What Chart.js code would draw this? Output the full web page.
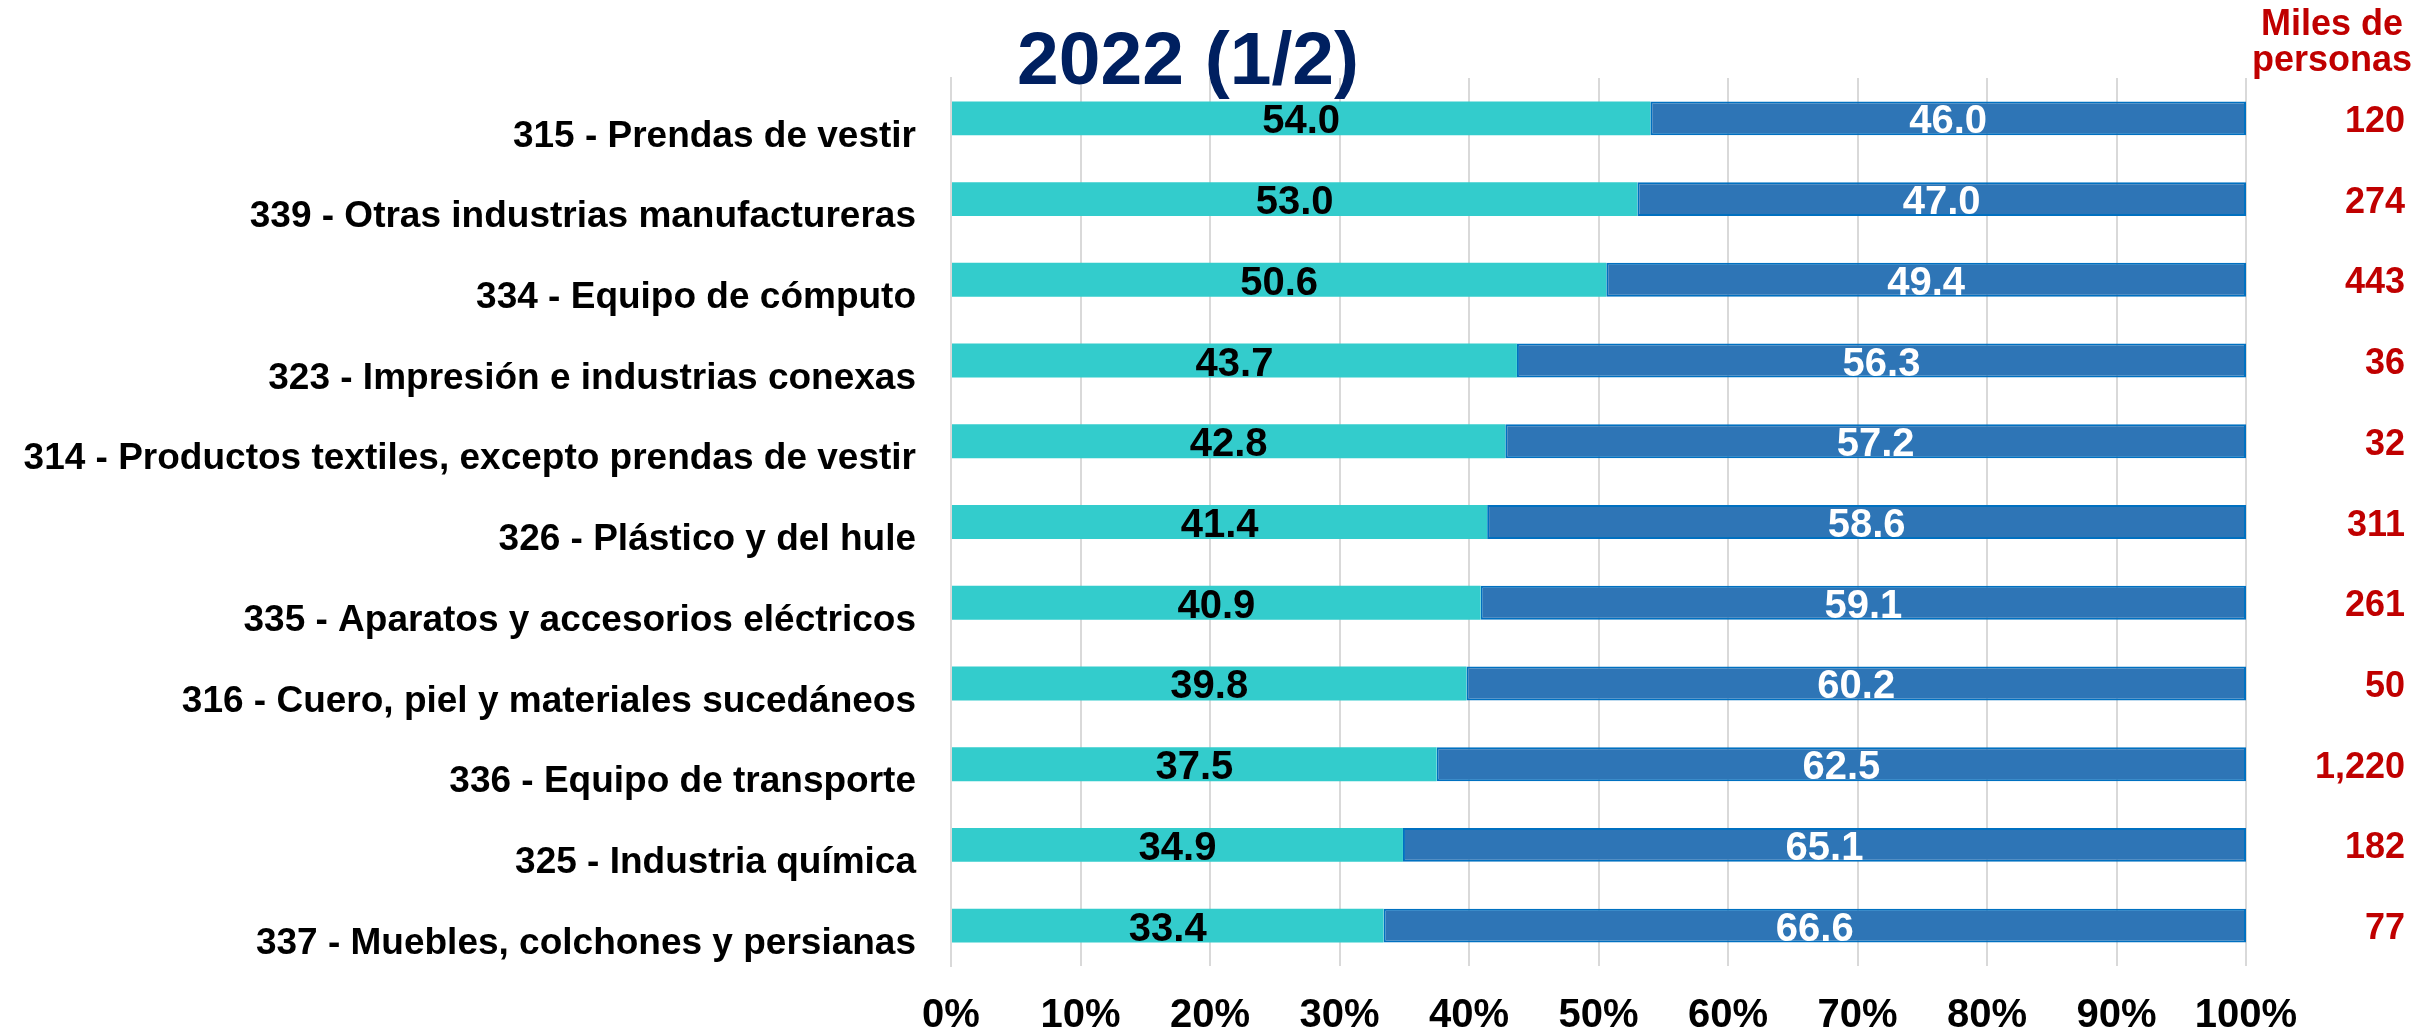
<!DOCTYPE html>
<html>
<head>
<meta charset="utf-8">
<script src="https://cdn.jsdelivr.net/npm/chart.js@4/dist/chart.umd.min.js"></script>
<style>
html,body{margin:0;padding:0;background:#fff;}
canvas{display:block;}
</style>
</head>
<body>
<canvas id="c" width="2425" height="1035" style="width:2425px;height:1035px"></canvas>
<script>
const categories = [
  "315 - Prendas de vestir",
  "339 - Otras industrias manufactureras",
  "334 - Equipo de cómputo",
  "323 - Impresión e industrias conexas",
  "314 - Productos textiles, excepto prendas de vestir",
  "326 - Plástico y del hule",
  "335 - Aparatos y accesorios eléctricos",
  "316 - Cuero, piel y materiales sucedáneos",
  "336 - Equipo de transporte",
  "325 - Industria química",
  "337 - Muebles, colchones y persianas"
];
const mujeres = [54.0, 53.0, 50.6, 43.7, 42.8, 41.4, 40.9, 39.8, 37.5, 34.9, 33.4];
const hombres = [46.0, 47.0, 49.4, 56.3, 57.2, 58.6, 59.1, 60.2, 62.5, 65.1, 66.6];
const totales = [120, 274, 443, 36, 32, 311, 261, 50, 1220, 182, 77];
const xTicks = [0, 10, 20, 30, 40, 50, 60, 70, 80, 90, 100];
const titleText = "2022 (1/2)";
const unitLines = ["Miles de", "personas"];

const FONT = "'Liberation Sans', Arial, Helvetica, sans-serif";

const overlayPlugin = {
  id: 'overlay',
  afterDatasetsDraw(chart) {
    const ctx = chart.ctx;
    // data labels
    chart.data.datasets.forEach((ds, di) => {
      const meta = chart.getDatasetMeta(di);
      meta.data.forEach((el, i) => {
        const cx = (el.x + el.base) / 2;
        ctx.save();
        ctx.font = "bold 40px " + FONT;
        ctx.fillStyle = di === 0 ? '#000000' : '#FFFFFF';
        ctx.textAlign = 'center';
        ctx.textBaseline = 'alphabetic';
        ctx.fillText(ds.data[i].toFixed(1), cx, el.y + 15);
        ctx.restore();
      });
    });
  },
  afterDraw(chart) {
    const ctx = chart.ctx;
    const yScale = chart.scales.y;
    // totals on the right
    ctx.save();
    ctx.font = "bold 36px " + FONT;
    ctx.fillStyle = '#C00000';
    ctx.textAlign = 'right';
    ctx.textBaseline = 'alphabetic';
    totales.forEach((t, i) => {
      const y = yScale.getPixelForValue(i);
      ctx.fillText(t.toLocaleString('en-US'), 2405, y + 13.5);
    });
    // unit header
    ctx.textAlign = 'center';
    ctx.fillText(unitLines[0], 2332, 35);
    ctx.fillText(unitLines[1], 2332, 71);
    // title
    ctx.font = "bold 75px " + FONT;
    ctx.fillStyle = '#002060';
    ctx.textAlign = 'center';
    ctx.fillText(titleText, 1188, 84);
    ctx.restore();
  }
};

new Chart(document.getElementById('c'), {
  type: 'bar',
  data: {
    labels: categories,
    datasets: [
      {
        label: 'Mujeres',
        data: mujeres,
        backgroundColor: '#33CCCC',
        borderWidth: 0,
        categoryPercentage: 1,
        barPercentage: 0.42
      },
      {
        label: 'Hombres',
        data: hombres,
        backgroundColor: '#2E75B6',
        borderColor: '#0070C0',
        borderWidth: 2,
        borderSkipped: false,
        categoryPercentage: 1,
        barPercentage: 0.42
      }
    ]
  },
  options: {
    indexAxis: 'y',
    responsive: false,
    animation: false,
    devicePixelRatio: 1,
    layout: { padding: { top: 78, right: 179, left: 0, bottom: 0 } },
    plugins: {
      legend: { display: false },
      title: { display: false },
      tooltip: { enabled: false }
    },
    scales: {
      x: {
        stacked: true,
        min: 0,
        max: 100,
        afterBuildTicks(scale) {
          scale.ticks = xTicks.map(v => ({ value: v }));
        },
        afterFit(scale) { scale.height = 69; },
        grid: { color: '#D9D9D9', lineWidth: 2, drawTicks: false },
        border: { display: false },
        ticks: {
          callback: (v) => v + '%',
          color: '#000000',
          font: { family: FONT, size: 40, weight: 'bold' },
          padding: 26,
          maxRotation: 0,
          autoSkip: false
        }
      },
      y: {
        stacked: true,
        afterFit(scale) { scale.width = 951; },
        grid: { display: false, drawTicks: false },
        border: { display: true, color: '#D9D9D9', width: 2 },
        ticks: {
          color: '#000000',
          font: { family: FONT, size: 37, weight: 'bold' },
          padding: 35,
          labelOffset: 18,
          autoSkip: false
        }
      }
    }
  },
  plugins: [overlayPlugin]
});
</script>
</body>
</html>
